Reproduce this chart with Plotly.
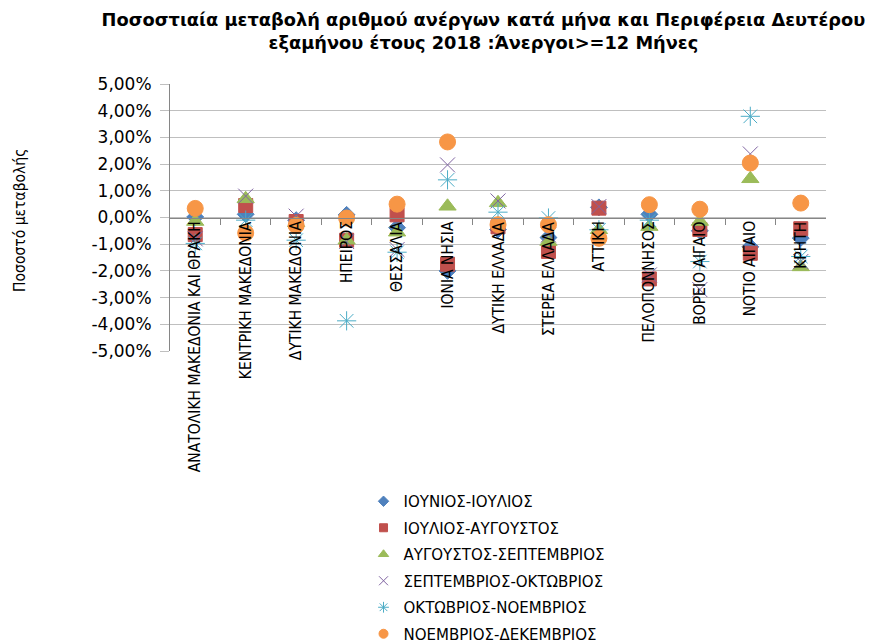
import plotly.graph_objects as go

categories = ["ΑΝΑΤΟΛΙΚΗ ΜΑΚΕΔΟΝΙΑ ΚΑΙ ΘΡΑΚΗ", "ΚΕΝΤΡΙΚΗ ΜΑΚΕΔΟΝΙΑ", "ΔΥΤΙΚΗ ΜΑΚΕΔΟΝΙΑ",
              "ΗΠΕΙΡΟΣ", "ΘΕΣΣΑΛΙΑ", "ΙΟΝΙΑ ΝΗΣΙΑ", "ΔΥΤΙΚΗ ΕΛΛΑΔΑ", "ΣΤΕΡΕΑ ΕΛΛΑΔΑ",
              "ΑΤΤΙΚΗ", "ΠΕΛΟΠΟΝΝΗΣΟΣ", "ΒΟΡΕΙΟ ΑΙΓΑΙΟ", "ΝΟΤΙΟ ΑΙΓΑΙΟ", "ΚΡΗΤΗ"]

series_names = ["ΙΟΥΝΙΟΣ-ΙΟΥΛΙΟΣ", "ΙΟΥΛΙΟΣ-ΑΥΓΟΥΣΤΟΣ", "ΑΥΓΟΥΣΤΟΣ-ΣΕΠΤΕΜΒΡΙΟΣ",
                "ΣΕΠΤΕΜΒΡΙΟΣ-ΟΚΤΩΒΡΙΟΣ", "ΟΚΤΩΒΡΙΟΣ-ΝΟΕΜΒΡΙΟΣ", "ΝΟΕΜΒΡΙΟΣ-ΔΕΚΕΜΒΡΙΟΣ"]

# values in percent
jun_jul = [0.02, 0.12, -0.10, 0.10, -0.38, -2.00, -0.45, -0.75, 0.38, 0.12, -0.50, -1.10, -0.77]
jul_aug = [-0.64, 0.45, -0.15, -0.85, 0.10, -1.75, -0.35, -1.27, 0.35, -2.30, -0.45, -1.34, -0.42]
aug_sep = [-0.15, 0.70, -0.20, -0.85, -0.55, 0.42, 0.55, -0.90, -0.46, -0.34, -0.15, 1.45, -1.85]
sep_oct = [-0.80, 0.80, 0.05, -0.90, -1.20, 1.97, 0.62, -0.65, 0.41, -2.15, -2.70, 2.38, -1.65]
oct_nov = [-0.97, -0.10, -0.85, -3.87, -1.30, 1.41, 0.20, -0.02, -0.46, -0.10, -1.65, 3.79, -1.46]
nov_dec = [0.34, -0.58, -0.30, -0.02, 0.50, 2.83, -0.27, -0.27, -0.78, 0.48, 0.31, 2.04, 0.54]

y_tick_vals = [5, 4, 3, 2, 1, 0, -1, -2, -3, -4, -5]
y_tick_text = ["5,00%", "4,00%", "3,00%", "2,00%", "1,00%", "0,00%",
               "-1,00%", "-2,00%", "-3,00%", "-4,00%", "-5,00%"]

all_values = [jun_jul, jul_aug, aug_sep, sep_oct, oct_nov, nov_dec]
colors = ["#4F81BD", "#C0504D", "#9BBB59", "#8064A2", "#4BACC6", "#F79646"]
symbols = ["diamond", "square", "triangle-up", "x-thin-open", "asterisk-open", "circle"]
sizes = [13, 14, 15, 15, 16, 16]
legend_sizes = [8, 8, 9, 9, 9, 9]

x_idx = list(range(len(categories)))

fig = go.Figure()
for name, vals, c, s, sz in zip(series_names, all_values, colors, symbols, sizes):
    fig.add_trace(go.Scatter(
        x=x_idx, y=vals, mode="markers", name=name, showlegend=False,
        marker=dict(color=c, symbol=s, size=sz, line=dict(color=c, width=1))))

# legend entries with small markers
for i, (name, c, s, sz) in enumerate(zip(series_names, colors, symbols, legend_sizes)):
    fig.add_trace(go.Scatter(
        x=[None], y=[None], mode="markers", name=name, legendgroup=f"g{i}",
        marker=dict(color=c, symbol=s, size=sz, line=dict(color=c, width=1))))

narrow = "Liberation Sans Narrow, DejaVu Sans Condensed, sans-serif"

# category labels hanging from the zero line
for i, cat in enumerate(categories):
    fig.add_annotation(x=i, y=0, xref="x", yref="y", text=cat, showarrow=False,
                       textangle=-90, xanchor="center", yanchor="top", yshift=-2,
                       font=dict(family=narrow, size=15.5, color="#000000"))

fig.add_annotation(x=-0.229, y=0.49, xref="paper", yref="paper", text="Ποσοστό μεταβολής",
                   showarrow=False, textangle=-90, xanchor="center", yanchor="middle",
                   font=dict(family=narrow, size=15.5, color="#000000"))

fig.update_layout(
    width=874, height=644,
    margin=dict(l=162, r=56, t=76, b=301),
    paper_bgcolor="white", plot_bgcolor="white",
    title=dict(text="<b>Ποσοστιαία μεταβολή αριθμού ανέργων κατά μήνα και Περιφέρεια Δευτέρου<br>εξαμήνου έτους 2018 :Άνεργοι>=12 Μήνες</b>",
               x=0.544, xanchor="center", y=0.972, yanchor="top", yref="container",
               font=dict(family="DejaVu Sans, sans-serif", size=17.8, color="#000000")),
    xaxis=dict(range=[-0.5, len(categories) - 0.5], anchor="free", position=0.5,
               showgrid=False, zeroline=False, showline=True, linecolor="#868686", linewidth=1,
               ticks="outside", ticklen=6, tickcolor="#868686",
               tickvals=[i + 0.5 for i in range(len(categories) - 1)],
               showticklabels=False),
    yaxis=dict(range=[-5, 5], tickvals=y_tick_vals, ticktext=y_tick_text,
               showgrid=True, gridcolor="#BFBFBF", gridwidth=1, zeroline=False,
               showline=True, linecolor="#868686", linewidth=1,
               ticks="outside", ticklen=9, tickcolor="#BFBFBF", ticklabelstandoff=5,
               tickfont=dict(family="DejaVu Sans, sans-serif", size=17, color="#000000")),
    legend=dict(x=0.295, xanchor="left", y=1 - 477 / 644, yref="container", yanchor="top",
                traceorder="grouped", tracegroupgap=4,
                font=dict(family="DejaVu Sans, sans-serif", size=15, color="#000000"),
                bgcolor="rgba(0,0,0,0)"),
)

fig.write_html("out.html")
